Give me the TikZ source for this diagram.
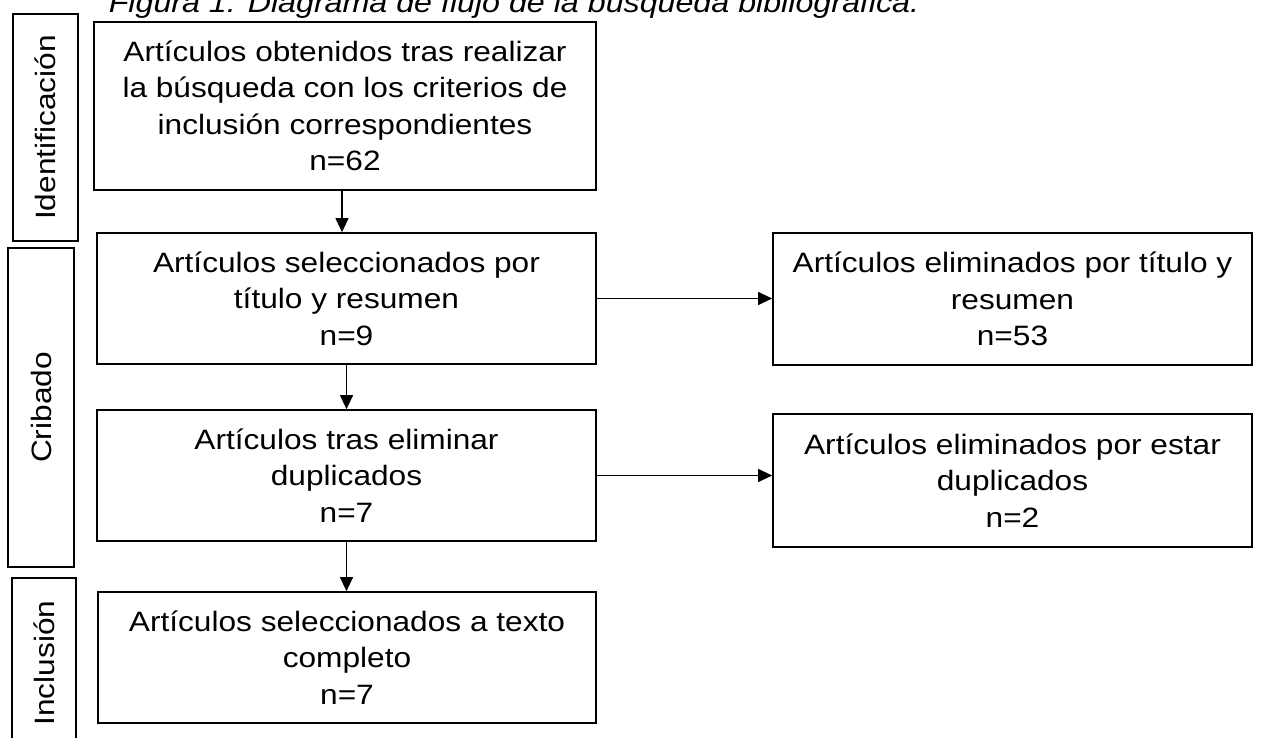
\documentclass[tikz,border=0pt]{standalone}
\usepackage{fontspec}
\setmainfont{Liberation Sans}[FakeStretch=1.13]
\usetikzlibrary{arrows.meta}
\tikzset{
  box/.style={draw,line width=1.7pt,align=center,inner sep=0pt,
    font=\fontsize{28}{36.5}\selectfont},
  stage/.style={draw,line width=1.7pt,inner sep=0pt},
  flow/.style={line width=1.2pt,-{Triangle[width=13pt,length=14pt]}}
}
\begin{document}
\begin{tikzpicture}[x=1pt,y=-1pt]
  \useasboundingbox (0,0) rectangle (1261,738);
  \clip (0,0) rectangle (1261,738);
  %% Caption
  \node[anchor=base,font=\fontsize{28.5}{33}\selectfont\itshape] (cap) at (514,13)
    {Figura 1: Diagrama de flujo de la búsqueda bibliográfica.};
  %% Stages
  \node[stage,minimum width=65pt,minimum height=227pt] (ident) at (45.5,127.5) {};
  \node[rotate=90,font=\fontsize{28}{33}\selectfont] at (ident.center) {Identificación};
  \node[stage,minimum width=66pt,minimum height=319pt] (crib) at (41,407.5) {};
  \node[rotate=90,font=\fontsize{28}{33}\selectfont] at (crib.center) {Cribado};
  \node[stage,minimum width=64pt,minimum height=170pt] (incl) at (44,663) {};
  \node[rotate=90,font=\fontsize{28}{33}\selectfont] at (incl.center) {Inclusión};
  %% Main column
  \node[box,minimum width=502pt,minimum height=168pt] (busq) at (345,106)
    {Artículos obtenidos tras realizar\\la búsqueda con los criterios de\\inclusión correspondientes\\n=62};
  \node[box,minimum width=499pt,minimum height=131pt] (titres) at (346.5,298.5)
    {Artículos seleccionados por\\título y resumen\\n=9};
  \node[box,minimum width=499pt,minimum height=131pt] (dupl) at (346.5,475.5)
    {Artículos tras eliminar\\duplicados\\n=7};
  \node[box,minimum width=498pt,minimum height=131pt] (compl) at (347,657.5)
    {Artículos seleccionados a texto\\completo\\n=7};
  %% Excluded
  \node[box,minimum width=479pt,minimum height=132pt] (elimtit) at (1012.5,299)
    {Artículos eliminados por título y\\resumen\\n=53};
  \node[box,minimum width=479pt,minimum height=133pt] (elimdup) at (1012.5,480.5)
    {Artículos eliminados por estar\\duplicados\\n=2};
  %% Arrows
  \draw[flow] ([xshift=-3pt]busq.south) -- ([xshift=-3pt]busq.south |- titres.north);
  \draw[flow] (titres.south) -- (dupl.north);
  \draw[flow] (dupl.south) -- (dupl.south |- compl.north);
  \draw[flow] (titres.east) -- (titres.east -| elimtit.west);
  \draw[flow] (dupl.east) -- (dupl.east -| elimdup.west);
\end{tikzpicture}
\end{document}
